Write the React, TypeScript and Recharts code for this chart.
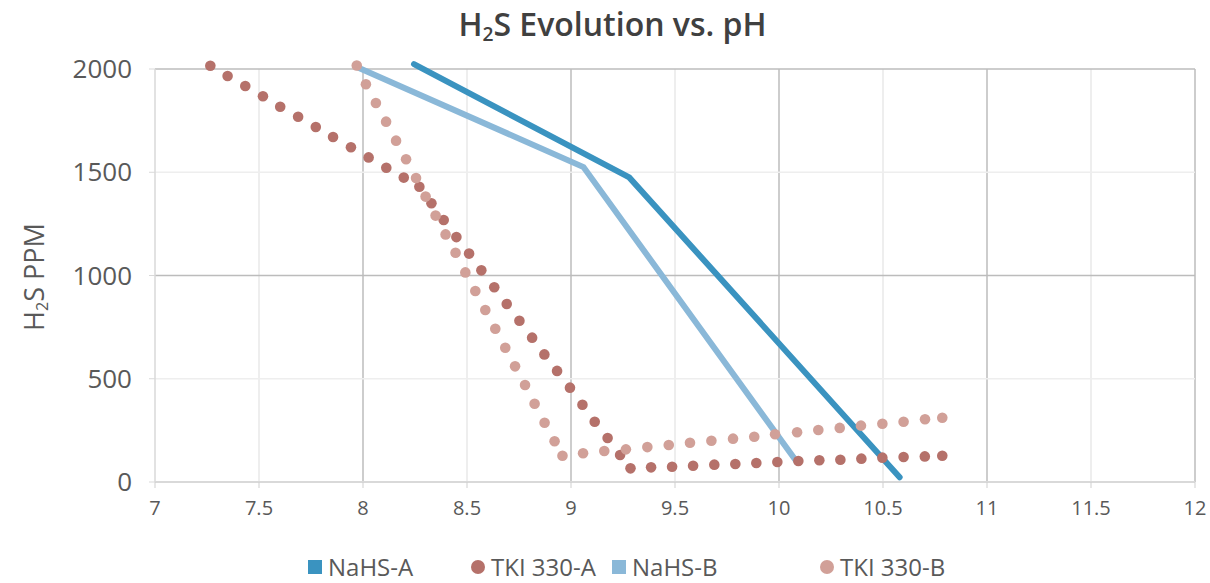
import React from "react";
import {
  ComposedChart,
  Line,
  Scatter,
  XAxis,
  YAxis,
  ReferenceLine,
} from "recharts";

// pH vs H2S ppm readings
const nahsA = [
  { x: 8.245, y: 2024 },
  { x: 9.28, y: 1475 },
  { x: 10.58, y: 23 },
];
const nahsB = [
  { x: 7.97, y: 2010 },
  { x: 9.06, y: 1525 },
  { x: 10.08, y: 105 },
];

const tkiAx = [
  7.266, 7.349, 7.434, 7.519, 7.602, 7.688, 7.773, 7.856, 7.942, 8.027, 8.112,
  8.196, 8.271, 8.329, 8.388, 8.449, 8.51, 8.569, 8.631, 8.691, 8.752, 8.813,
  8.872, 8.933, 8.995, 9.055, 9.114, 9.176, 9.236, 9.286, 9.385, 9.486, 9.587,
  9.689, 9.79, 9.891, 9.992, 10.093, 10.194, 10.295, 10.396, 10.497, 10.599,
  10.701, 10.785,
];
const tkiAy = [
  2016, 1966, 1918, 1868, 1817, 1769, 1719, 1671, 1621, 1572, 1522, 1474, 1430,
  1350, 1269, 1186, 1106, 1025, 943, 862, 781, 699, 618, 538, 457, 374, 292,
  213, 131, 66, 71, 74, 79, 84, 87, 92, 97, 102, 105, 108, 113, 118, 121, 124,
  127,
];

const tkiBx = [
  7.97, 8.014, 8.062, 8.111, 8.159, 8.207, 8.255, 8.301, 8.349, 8.397, 8.445,
  8.492, 8.54, 8.588, 8.636, 8.684, 8.731, 8.779, 8.825, 8.873, 8.921, 8.959,
  9.058, 9.16, 9.264, 9.367, 9.47, 9.572, 9.675, 9.779, 9.881, 9.981, 10.087,
  10.189, 10.292, 10.394, 10.497, 10.599, 10.702, 10.785,
];
const tkiBy = [
  2017, 1926, 1835, 1745, 1653, 1563, 1472, 1382, 1290, 1199, 1110, 1015, 925,
  833, 742, 650, 560, 470, 379, 287, 197, 127, 139, 150, 158, 169, 179, 190,
  200, 210, 219, 231, 241, 252, 262, 273, 282, 292, 304, 311,
];

const xTicks = [7, 7.5, 8, 8.5, 9, 9.5, 10, 10.5, 11, 11.5, 12];
const yTicks = [0, 500, 1000, 1500, 2000];

const tkiA = tkiAx.map((x, i) => ({ x, y: tkiAy[i] }));
const tkiB = tkiBx.map((x, i) => ({ x, y: tkiBy[i] }));

const C = {
  nahsA: "#3a93c0",
  nahsB: "#8ab8d8",
  tkiA: "#b5716a",
  tkiB: "#d1a098",
  major: "#bcbcbc",
  minor: "#e8e8e8",
  axis: "#d9d9d9",
  text: "#595959",
};

const dot = (fill: string) => (p: any) =>
  <circle cx={p.cx} cy={p.cy} r={5.3} fill={fill} />;

const legendItems = [
  { name: "NaHS-A", color: C.nahsA, square: true, left: 308 },
  { name: "TKI 330-A", color: C.tkiA, square: false, left: 471 },
  { name: "NaHS-B", color: C.nahsB, square: true, left: 612 },
  { name: "TKI 330-B", color: C.tkiB, square: false, left: 820 },
];

export default function App() {
  return (
    <div
      style={{
        position: "absolute",
        left: 0,
        top: 0,
        width: 1210,
        height: 583,
        overflow: "hidden",
        background: "#fff",
        fontFamily: '"Open Sans", sans-serif',
      }}
    >
      {/* values just above 2000 are drawn past the top gridline, as in the original */}
      <style>{".recharts-wrapper [clip-path]{clip-path:none !important}"}</style>
      <ComposedChart
        width={1210}
        height={583}
        margin={{ top: 69, right: 15, bottom: 0, left: 0 }}
      >
        {xTicks.slice(1).map((v) => (
          <ReferenceLine
            key={"x" + v}
            x={v}
            stroke={Number.isInteger(v) ? C.major : C.minor}
            strokeWidth={1.5}
          />
        ))}
        {yTicks.slice(1).map((v) => (
          <ReferenceLine
            key={"y" + v}
            y={v}
            stroke={v % 1000 === 0 ? C.major : "#eeeeee"}
            strokeWidth={1.5}
          />
        ))}
        <XAxis
          type="number"
          dataKey="x"
          domain={[7, 12]}
          ticks={xTicks}
          height={101}
          tickSize={6}
          tickMargin={13}
          axisLine={{ stroke: C.axis, strokeWidth: 2 }}
          tickLine={{ stroke: "#cfcfcf" }}
          tick={{ fill: C.text, fontSize: 20 }}
          allowDataOverflow
        />
        <YAxis
          type="number"
          dataKey="y"
          domain={[0, 2000]}
          ticks={yTicks}
          width={155}
          tickSize={6}
          tickMargin={17}
          axisLine={{ stroke: C.axis, strokeWidth: 1.5 }}
          tickLine={{ stroke: C.axis }}
          tick={{ fill: C.text, fontSize: 26 }}
          allowDataOverflow
        />
        <Scatter
          name="TKI 330-A"
          data={tkiA}
          fill={C.tkiA}
          shape={dot(C.tkiA)}
          isAnimationActive={false}
        />
        <Scatter
          name="TKI 330-B"
          data={tkiB}
          fill={C.tkiB}
          shape={dot(C.tkiB)}
          isAnimationActive={false}
        />
        <Line
          name="NaHS-B"
          data={nahsB}
          dataKey="y"
          type="linear"
          stroke={C.nahsB}
          strokeWidth={6}
          strokeLinecap="round"
          dot={false}
          activeDot={false}
          isAnimationActive={false}
        />
        <Line
          name="NaHS-A"
          data={nahsA}
          dataKey="y"
          type="linear"
          stroke={C.nahsA}
          strokeWidth={6}
          strokeLinecap="round"
          dot={false}
          activeDot={false}
          isAnimationActive={false}
        />
      </ComposedChart>

      <div
        style={{
          position: "absolute",
          left: 0,
          width: 1225,
          top: 2,
          textAlign: "center",
          fontSize: 32,
          fontWeight: 600,
          color: "#404040",
          whiteSpace: "nowrap",
        }}
      >
        H<sub style={{ fontSize: "0.6em", verticalAlign: "-0.25em" }}>2</sub>S
        Evolution vs. pH
      </div>

      <div
        style={{
          position: "absolute",
          left: 35,
          top: 277,
          transform: "translate(-50%, -50%) rotate(-90deg)",
          fontSize: 27,
          lineHeight: 1,
          color: C.text,
          whiteSpace: "nowrap",
        }}
      >
        H<sub style={{ fontSize: "0.6em", verticalAlign: "-0.2em" }}>2</sub>S PPM
      </div>

      {legendItems.map((it) => (
        <div
          key={it.name}
          style={{
            position: "absolute",
            left: it.left,
            top: 555,
            height: 23,
            lineHeight: "23px",
            display: "flex",
            alignItems: "center",
            fontSize: 24,
            color: C.text,
            whiteSpace: "nowrap",
          }}
        >
          <span
            style={{
              display: "inline-block",
              width: 14,
              height: 14,
              borderRadius: it.square ? 0 : 7,
              background: it.color,
              marginRight: 6,
            }}
          />
          {it.name}
        </div>
      ))}
    </div>
  );
}
